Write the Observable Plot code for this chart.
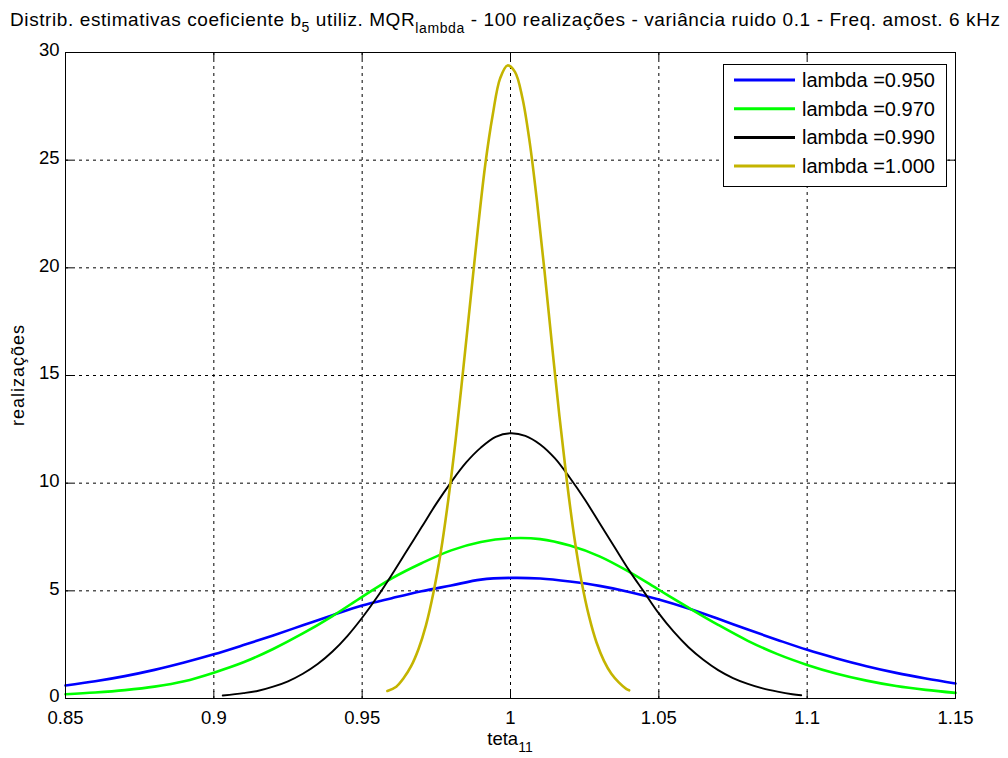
<!DOCTYPE html>
<html><head><meta charset="utf-8">
<script src="https://cdn.jsdelivr.net/npm/d3@7"></script>
<script src="https://cdn.jsdelivr.net/npm/@observablehq/plot@0.6"></script>
<style>
body{margin:0;background:#fff;width:1008px;height:758px;overflow:hidden}
#title{height:36px}
#chart svg{display:block}
</style></head><body>
<div id="title"></div>
<div id="chart"></div>
<script>
// ---------- data ----------
const xTicks = [0.85, 0.9, 0.95, 1, 1.05, 1.1, 1.15];
const yTicks = [0, 5, 10, 15, 20, 25, 30];
const legendLabels = ["lambda =0.950", "lambda =0.970", "lambda =0.990", "lambda =1.000"];
const colors = ["#0000ff", "#00ff00", "#000000", "#c4b400"];

const xBlue = [0.85,0.86,0.87,0.88,0.89,0.90,0.91,0.92,0.93,0.94,0.95,0.96,0.97,0.98,0.99,1.00,1.01,1.02,1.03,1.04,1.05,1.06,1.07,1.08,1.09,1.10,1.11,1.12,1.13,1.14,1.15];
const yBlue = [0.60,0.80,1.04,1.33,1.67,2.05,2.48,2.93,3.40,3.87,4.32,4.66,4.98,5.25,5.52,5.60,5.57,5.43,5.23,4.95,4.60,4.18,3.70,3.20,2.72,2.26,1.86,1.50,1.19,0.93,0.70];

const xGreen = [0.85,0.86,0.87,0.88,0.89,0.90,0.91,0.92,0.93,0.94,0.95,0.96,0.97,0.98,0.99,1.00,1.01,1.02,1.03,1.04,1.05,1.06,1.07,1.08,1.09,1.10,1.11,1.12,1.13,1.14,1.15];
const yGreen = [0.20,0.28,0.39,0.55,0.80,1.20,1.68,2.30,3.02,3.83,4.72,5.58,6.28,6.88,7.27,7.44,7.40,7.10,6.60,5.88,5.05,4.22,3.42,2.68,2.06,1.56,1.15,0.83,0.58,0.40,0.26];

const xBlack = [0.903,0.910,0.915,0.920,0.925,0.930,0.935,0.940,0.945,0.950,0.955,0.960,0.965,0.970,0.975,0.980,0.985,0.990,0.995,1.000,1.005,1.010,1.015,1.020,1.025,1.030,1.035,1.040,1.045,1.050,1.055,1.060,1.065,1.070,1.075,1.080,1.085,1.090,1.095,1.098];
const yBlack = [0.14,0.25,0.36,0.55,0.80,1.15,1.60,2.18,2.90,3.75,4.70,5.75,6.85,7.95,9.05,10.05,10.95,11.65,12.15,12.32,12.20,11.80,11.15,10.25,9.25,8.15,7.05,5.95,4.95,3.95,3.10,2.38,1.80,1.32,0.95,0.68,0.47,0.32,0.20,0.15];

const xYellow = [0.9585,0.9615,0.9640,0.9665,0.9690,0.9715,0.9740,0.9765,0.9790,0.9815,0.9840,0.9865,0.9890,0.9915,0.9940,0.9965,0.9990,1.0015,1.0040,1.0065,1.0090,1.0115,1.0140,1.0165,1.0190,1.0215,1.0240,1.0265,1.0290,1.0315,1.0340,1.0365,1.0390,1.0400];
const yYellow = [0.35,0.55,0.95,1.50,2.30,3.40,4.90,6.80,9.20,12.00,15.20,18.50,21.80,24.80,27.10,28.80,29.40,29.10,27.90,25.80,23.00,19.80,16.40,13.10,10.10,7.50,5.40,3.80,2.60,1.75,1.15,0.75,0.45,0.38];

// ---------- build tables ----------
const toRows = (xs, ys) => xs.map((x, i) => ({x, y: ys[i]}));
const series = [toRows(xBlue, yBlue), toRows(xGreen, yGreen), toRows(xBlack, yBlack), toRows(xYellow, yYellow)];
const widths = [2.6, 2.6, 1.9, 2.6];

const fmt = d => String(+(+d).toFixed(2));
const W = 1008, H = 722;
const mT = 16, mB = 60, mL = 65, mR = 53;
const plotW = W - mL - mR, plotH = H - mT - mB;
const font = "'Liberation Sans', Arial, Helvetica, sans-serif";

const plot = Plot.plot({
  width: W, height: H,
  marginTop: mT, marginBottom: mB, marginLeft: mL, marginRight: mR,
  x: {domain: [0.85, 1.15]},
  y: {domain: [0, 30]},
  style: {fontFamily: font, fontSize: "18.5px", color: "#000", background: "#fff", overflow: "visible"},
  marks: [
    Plot.gridX(xTicks, {stroke: "#000", strokeOpacity: 1, strokeWidth: 1, strokeDasharray: "3,4"}),
    Plot.gridY(yTicks, {stroke: "#000", strokeOpacity: 1, strokeWidth: 1, strokeDasharray: "3,4"}),
    ...series.map((s, i) => Plot.line(s, {x: "x", y: "y", stroke: colors[i], strokeWidth: widths[i], curve: "catmull-rom"})),
    Plot.frame({stroke: "#000", strokeWidth: 1}),
    Plot.tickX(xTicks, {x: d => d, insetTop: plotH - 7, stroke: "#000"}),
    Plot.tickX(xTicks, {x: d => d, insetBottom: plotH - 7, stroke: "#000"}),
    Plot.tickY(yTicks, {y: d => d, insetRight: plotW - 7, stroke: "#000"}),
    Plot.tickY(yTicks, {y: d => d, insetLeft: plotW - 7, stroke: "#000"}),
    Plot.axisX(xTicks, {tickSize: 0, tickPadding: 12, tickFormat: fmt, label: null}),
    Plot.axisY(yTicks, {tickSize: 0, tickPadding: 6, tickFormat: fmt, label: null, dy: -2})
  ]
});
document.getElementById("chart").appendChild(plot);

const svg = d3.select(plot);
const xr = plot.scale("x").range, yr = plot.scale("y").range;
const xMid = (xr[0] + xr[1]) / 2, yMid = (yr[0] + yr[1]) / 2;

// x label with subscript
const xl = svg.append("text").attr("x", xMid).attr("y", H - 13)
  .attr("text-anchor", "middle").attr("font-family", font).attr("font-size", 18.5).attr("fill", "#000");
xl.append("tspan").text("teta");
xl.append("tspan").attr("font-size", 14).attr("dy", 7).text("11");

// y label
svg.append("text").attr("transform", `translate(24,${yMid}) rotate(-90)`)
  .attr("text-anchor", "middle").attr("font-family", font)
  .attr("font-size", 18).attr("letter-spacing", 1).attr("fill", "#000").text("realizações");

// legend
const lg = svg.append("g").attr("transform", `translate(${xr[1] - 232},${yr[1] + 12})`);
lg.append("rect").attr("x", 0.5).attr("y", 0.5).attr("width", 223).attr("height", 122)
  .attr("fill", "#fff").attr("stroke", "#000").attr("stroke-width", 1);
legendLabels.forEach((lab, i) => {
  const cy = 16 + i * 28.7;
  lg.append("line").attr("x1", 11).attr("x2", 72).attr("y1", cy).attr("y2", cy)
    .attr("stroke", colors[i]).attr("stroke-width", 3);
  lg.append("text").attr("x", 79).attr("y", cy).attr("dy", "0.35em").attr("text-anchor", "start")
    .attr("font-family", font).attr("font-size", 20).attr("fill", "#000").text(lab);
});

// title
const ts = d3.select("#title").append("svg").attr("width", W).attr("height", 36).style("display", "block");
const tt = ts.append("text").attr("x", 10).attr("y", 26).attr("font-family", font)
  .attr("font-size", 19).attr("fill", "#000").attr("textLength", 990).attr("lengthAdjust", "spacing");
tt.append("tspan").text("Distrib. estimativas coeficiente b");
tt.append("tspan").attr("font-size", 14).attr("dy", 6).text("5");
tt.append("tspan").attr("dy", -6).text(" utiliz. MQR");
tt.append("tspan").attr("font-size", 14).attr("dy", 7).text("lambda");
tt.append("tspan").attr("dy", -7).text(" - 100 realizações - variância ruido 0.1 - Freq. amost. 6 kHz");
</script></body></html>
